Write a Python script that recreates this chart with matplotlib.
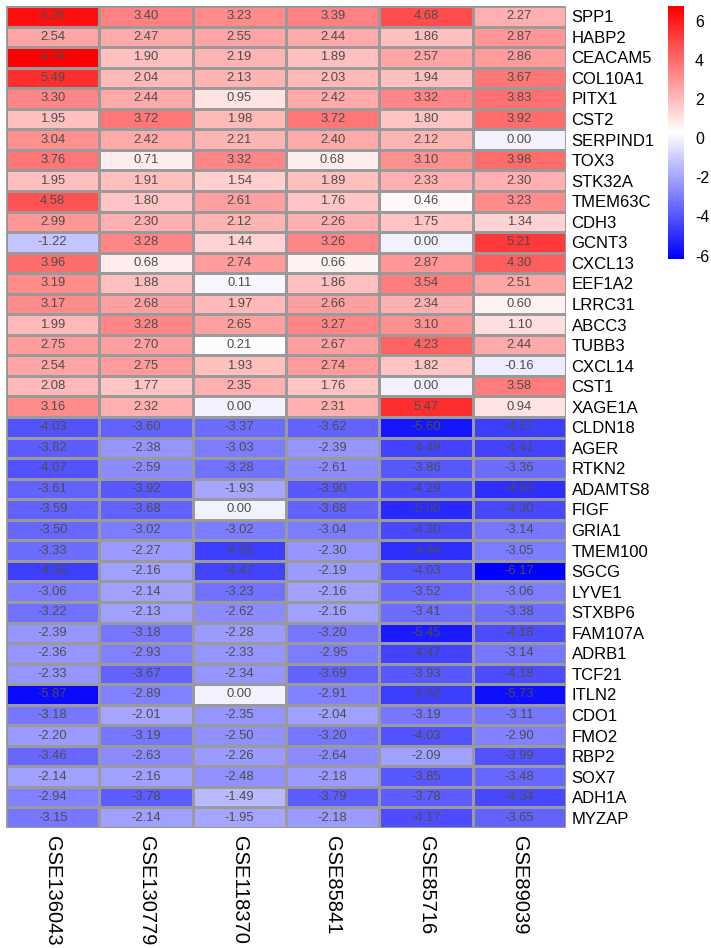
import matplotlib
matplotlib.use("Agg")
import matplotlib.pyplot as plt
import numpy as np
from matplotlib.colors import LinearSegmentedColormap

plt.rcParams['font.family'] = ['Liberation Sans', 'DejaVu Sans']
plt.rcParams['axes.unicode_minus'] = False

genes = ["SPP1", "HABP2", "CEACAM5", "COL10A1", "PITX1", "CST2", "SERPIND1", "TOX3",
         "STK32A", "TMEM63C", "CDH3", "GCNT3", "CXCL13", "EEF1A2", "LRRC31", "ABCC3",
         "TUBB3", "CXCL14", "CST1", "XAGE1A", "CLDN18", "AGER", "RTKN2", "ADAMTS8",
         "FIGF", "GRIA1", "TMEM100", "SGCG", "LYVE1", "STXBP6", "FAM107A", "ADRB1",
         "TCF21", "ITLN2", "CDO1", "FMO2", "RBP2", "SOX7", "ADH1A", "MYZAP"]

datasets = ["GSE136043", "GSE130779", "GSE118370", "GSE85841", "GSE85716", "GSE89039"]

gse136043 = [6.26, 2.54, 6.74, 5.49, 3.30, 1.95, 3.04, 3.76, 1.95, 4.58, 2.99, -1.22, 3.96,
             3.19, 3.17, 1.99, 2.75, 2.54, 2.08, 3.16, -4.03, -3.82, -4.07, -3.61, -3.59,
             -3.50, -3.33, -4.56, -3.06, -3.22, -2.39, -2.36, -2.33, -5.87, -3.18, -2.20,
             -3.46, -2.14, -2.94, -3.15]
gse130779 = [3.40, 2.47, 1.90, 2.04, 2.44, 3.72, 2.42, 0.71, 1.91, 1.80, 2.30, 3.28, 0.68,
             1.88, 2.68, 3.28, 2.70, 2.75, 1.77, 2.32, -3.60, -2.38, -2.59, -3.92, -3.68,
             -3.02, -2.27, -2.16, -2.14, -2.13, -3.18, -2.93, -3.67, -2.89, -2.01, -3.19,
             -2.63, -2.16, -3.78, -2.14]
gse118370 = [3.23, 2.55, 2.19, 2.13, 0.95, 1.98, 2.21, 3.32, 1.54, 2.61, 2.12, 1.44, 2.74,
             0.11, 1.97, 2.65, 0.21, 1.93, 2.35, 0.00, -3.37, -3.03, -3.28, -1.93, 0.00,
             -3.02, -4.55, -4.47, -3.23, -2.62, -2.28, -2.33, -2.34, 0.00, -2.35, -2.50,
             -2.26, -2.48, -1.49, -1.95]
gse85841 = [3.39, 2.44, 1.89, 2.03, 2.42, 3.72, 2.40, 0.68, 1.89, 1.76, 2.26, 3.26, 0.66,
            1.86, 2.66, 3.27, 2.67, 2.74, 1.76, 2.31, -3.62, -2.39, -2.61, -3.90, -3.68,
            -3.04, -2.30, -2.19, -2.16, -2.16, -3.20, -2.95, -3.69, -2.91, -2.04, -3.20,
            -2.64, -2.18, -3.79, -2.18]
gse85716 = [4.68, 1.86, 2.57, 1.94, 3.32, 1.80, 2.12, 3.10, 2.33, 0.46, 1.75, 0.00, 2.87,
            3.54, 2.34, 3.10, 4.23, 1.82, 0.00, 5.47, -5.60, -4.49, -3.86, -4.29, -5.06,
            -4.30, -4.94, -4.03, -3.52, -3.41, -5.45, -4.47, -3.93, -4.52, -3.19, -4.03,
            -2.09, -3.85, -3.78, -4.17]
gse89039 = [2.27, 2.87, 2.86, 3.67, 3.83, 3.92, 0.00, 3.98, 2.30, 3.23, 1.34, 5.21, 4.30,
            2.51, 0.60, 1.10, 2.44, -0.16, 3.58, 0.94, -4.57, -4.41, -3.36, -4.93, -4.30,
            -3.14, -3.05, -6.17, -3.06, -3.38, -4.18, -3.14, -4.18, -5.73, -3.11, -2.90,
            -3.99, -3.48, -4.34, -3.65]

values = np.column_stack([gse136043, gse130779, gse118370, gse85841, gse85716, gse89039])
vmin, vmax = values.min(), values.max()

cmap = LinearSegmentedColormap.from_list("bwr_ph", ["#0000FF", "#FFFFFF", "#FF0000"], N=100)

W, H = 711, 948
fig = plt.figure(figsize=(W / 100, H / 100), dpi=100)

ax = fig.add_axes([6 / W, 1 - 828 / H, 560 / W, 822 / H])
nr, nc = values.shape
mesh = ax.pcolormesh(np.arange(nc + 1), np.arange(nr + 1), values, cmap=cmap,
                     vmin=vmin, vmax=vmax, edgecolors="#9a9a9a", linewidth=0.8)
ax.set_xlim(0, nc)
ax.set_ylim(nr, 0)
for s in ax.spines.values():
    s.set_visible(False)

for i in range(nr):
    for j in range(nc):
        ax.text(j + 0.5, i + 0.5, f"{values[i, j]:.2f}", ha="center", va="center",
                fontsize=9.4, color="#4D4D4D")

ax.yaxis.tick_right()
ax.set_yticks(np.arange(nr) + 0.5)
ax.set_yticklabels(genes, fontsize=12)
ax.set_xticks(np.arange(nc) + 0.5)
ax.set_xticklabels(datasets, fontsize=14.5, rotation=270, va="top", ha="center")
ax.tick_params(length=0, pad=4)
ax.tick_params(axis="x", pad=6)

cax = fig.add_axes([668 / W, 1 - 259 / H, 16 / W, 253 / H])
cb = fig.colorbar(mesh, cax=cax, ticks=[-6, -4, -2, 0, 2, 4, 6])
cb.outline.set_visible(False)
cax.tick_params(length=0, pad=8, labelsize=11.5)

fig.savefig("out.png", dpi=100)
